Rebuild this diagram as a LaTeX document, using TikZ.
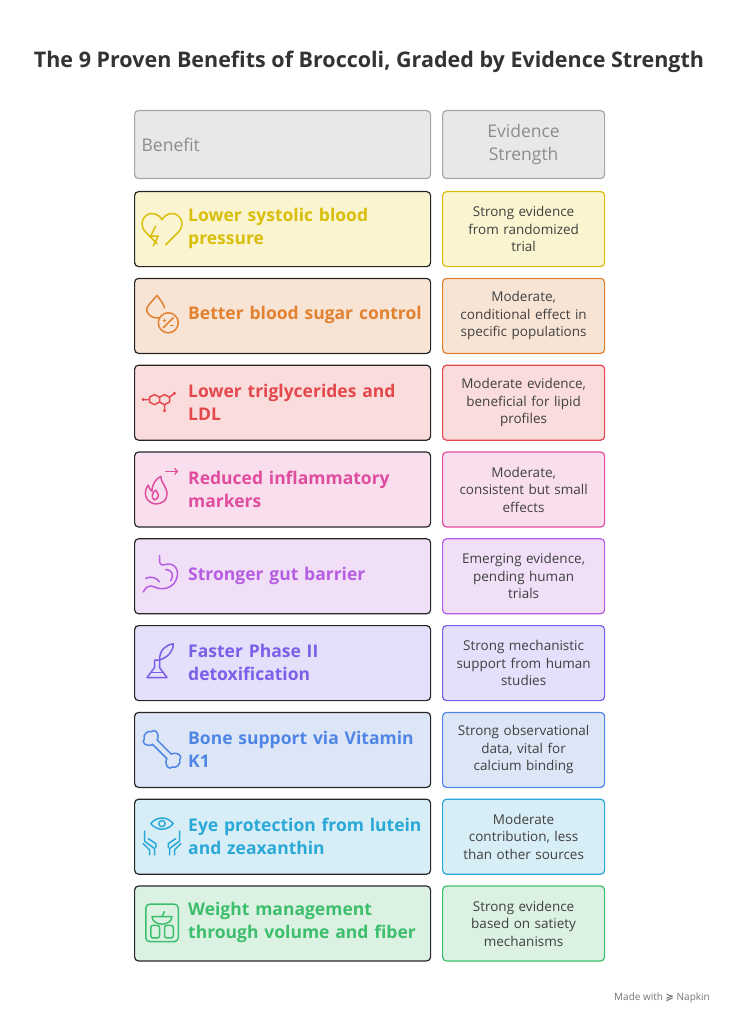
\documentclass[tikz,border=0pt]{standalone}
\usepackage{fontspec}
\setmainfont{Open Sans}
\newfontfamily\symfont{DejaVu Sans}
\usetikzlibrary{positioning}

\definecolor{cYel}{HTML}{D9BE0C}  \definecolor{fYel}{HTML}{FAF5D0}
\definecolor{cOra}{HTML}{E2812F}  \definecolor{fOra}{HTML}{F8E4D5}
\definecolor{cRed}{HTML}{E5484C}  \definecolor{fRed}{HTML}{FADCDC}
\definecolor{cPin}{HTML}{E04D9E}  \definecolor{fPin}{HTML}{F9DEEE}
\definecolor{cPur}{HTML}{B65DE2}  \definecolor{fPur}{HTML}{F0DFF7}
\definecolor{cVio}{HTML}{7B5FE8}  \definecolor{fVio}{HTML}{E4DFFA}
\definecolor{cBlu}{HTML}{4F86E6}  \definecolor{fBlu}{HTML}{DDE6F7}
\definecolor{cCya}{HTML}{2AA8D8}  \definecolor{fCya}{HTML}{D8EEF7}
\definecolor{cGre}{HTML}{3DBE6C}  \definecolor{fGre}{HTML}{DBF2E3}
\definecolor{hdr}{HTML}{E8E8E8}

\tikzset{
  benefit/.style={draw=black!85, line width=1.2pt, rounded corners=4pt, minimum width=296pt,
    minimum height=75pt, anchor=north west, inner sep=0pt},
  bentext/.style={anchor=west, text width=240pt, align=left, inner sep=0pt,
    font=\bfseries\fontsize{17.5}{23}\selectfont},
  evidence/.style={line width=1.2pt, rounded corners=4pt, minimum width=162pt,
    minimum height=75pt, anchor=north west, text width=150pt, align=center,
    font=\fontsize{13.5}{17.5}\selectfont, text=black!75, inner sep=0pt},
  header/.style={draw=black!35, fill=hdr, line width=1.2pt, rounded corners=4pt,
    minimum height=68pt, anchor=north west, text=black!45,
    font=\fontsize{17.5}{23}\selectfont, inner sep=0pt},
  icon/.style={line width=1.5pt, line cap=round, line join=round, scale=1.25}
}

\begin{document}
\begin{tikzpicture}[x=1pt, y=-1pt]
\useasboundingbox (0,0) rectangle (738,1024);

\node[font=\bfseries\fontsize{21.5}{26}\selectfont, text=black!80] (title) at (369,62)
  {The 9 Proven Benefits of Broccoli, Graded by Evidence Strength};

% header row
\node[header, minimum width=296pt, text width=282pt, align=left] (hBen) at (134,110) {Benefit};
\node[header, minimum width=162pt, text width=150pt, align=center] (hEvi) at (442,110) {Evidence\\Strength};

% rows
\foreach \i/\c/\f/\ben/\evi in {
  0/cYel/fYel/{Lower systolic blood\\pressure}/{Strong evidence\\from randomized\\trial},
  1/cOra/fOra/{Better blood sugar control}/{Moderate,\\conditional effect in\\specific populations},
  2/cRed/fRed/{Lower triglycerides and\\LDL}/{Moderate evidence,\\beneficial for lipid\\profiles},
  3/cPin/fPin/{Reduced inflammatory\\markers}/{Moderate,\\consistent but small\\effects},
  4/cPur/fPur/{Stronger gut barrier}/{Emerging evidence,\\pending human\\trials},
  5/cVio/fVio/{Faster Phase II\\detoxification}/{Strong mechanistic\\support from human\\studies},
  6/cBlu/fBlu/{Bone support via Vitamin\\K1}/{Strong observational\\data, vital for\\calcium binding},
  7/cCya/fCya/{Eye protection from lutein\\and zeaxanthin}/{Moderate\\contribution, less\\than other sources},
  8/cGre/fGre/{Weight management\\through volume and fiber}/{Strong evidence\\based on satiety\\mechanisms}}{
  \node[benefit, fill=\f] (ben\i) at (134,{191+86.8*\i}) {};
  \node[bentext, text=\c] (lab\i) at (188,{228.5+86.8*\i}) {\ben};
  \node[evidence, draw=\c, fill=\f] (evi\i) at (442,{191+86.8*\i}) {\evi};
  \coordinate (ic\i) at (162,{228.5+86.8*\i});
}

% icons
\begin{scope}[shift={(ic0)}, icon, draw=cYel]
  \draw (-4,12) -- (-13,3) .. controls (-19,-3) and (-15,-12) .. (-8,-12) .. controls (-4,-12) and (-1,-9) .. (0,-7)
        .. controls (1,-9) and (4,-12) .. (8,-12) .. controls (15,-12) and (19,-3) .. (13,3) -- (3,13);
  \draw (-5,-2) -- (-9,6) -- (-3,6) -- (-7,14);
\end{scope}
\begin{scope}[shift={(ic1)}, icon, draw=cOra]
  \draw (-2,2) .. controls (-8,3) and (-14,-2) .. (-12,-6) .. controls (-10,-10) and (-6,-13) .. (-4,-16) .. controls (-2,-13) and (1,-10) .. (2,-6);
  \draw (5,6) circle (8);
  \draw (1,10) -- (9,2); \draw (1,4) -- (3,4) (2,3) -- (2,5) (7,8) -- (9,8);
\end{scope}
\begin{scope}[shift={(ic2)}, icon, draw=cRed]
  \draw (-10,-4) -- (-6,-6) -- (-2,-4) -- (-2,0) -- (-6,2) -- (-10,0) -- cycle;
  \draw (-2,-4) -- (2,-6) -- (6,-4) -- (6,0) -- (2,2) -- (-2,0);
  \draw (-10,-2) -- (-15,-2) (6,-4) -- (10,-7) (2,2) -- (2,7);
  \fill[cRed] (-15,-2) circle (1.3) (10,-7) circle (1.3) (2,7) circle (1.3);
\end{scope}
\begin{scope}[shift={(ic3)}, icon, draw=cPin]
  \draw (-6,12) .. controls (-14,10) and (-15,2) .. (-11,-3) .. controls (-10,0) and (-9,1) .. (-8,2)
        .. controls (-8,-4) and (-5,-8) .. (-1,-10) .. controls (-1,-5) and (4,-2) .. (4,4) .. controls (4,9) and (1,12) .. (-6,12);
  \draw (-6,9) .. controls (-9,7) and (-8,3) .. (-5,1) .. controls (-3,4) and (-1,6) .. (-6,9);
  \draw[->] (3,-14) -- (13,-14);
\end{scope}
\begin{scope}[shift={(ic4)}, icon, draw=cPur]
  \draw (-2,-16) -- (-2,-11) .. controls (-2,-9) and (0,-8) .. (3,-9) .. controls (10,-11) and (15,-4) .. (11,4)
        .. controls (8,10) and (0,12) .. (-6,9) .. controls (-10,7) and (-13,9) .. (-15,13);
  \draw (-13,2) .. controls (-8,0) and (-4,2) .. (-2,5);
  \draw (3,-5) .. controls (8,-5) and (10,0) .. (7,4);
\end{scope}
\begin{scope}[shift={(ic5)}, icon, draw=cVio]
  \draw (-6,-2) -- (-6,4) -- (-12,12) -- (4,12) -- (-2,4) -- (-2,-2) -- cycle;
  \draw (-9,8) -- (1,8);
  \draw (-2,-2) .. controls (-2,-10) and (3,-14) .. (9,-15) .. controls (9,-8) and (4,-4) .. (-2,-2);
\end{scope}
\begin{scope}[shift={(ic6)}, icon, draw=cBlu, rotate=-45]
  \draw (-8,-2.5) -- (8,-2.5) (-8,2.5) -- (8,2.5);
  \draw (-8,-2.5) .. controls (-10,-8) and (-16,-8) .. (-16,-4) .. controls (-19,-3) and (-19,3) .. (-16,4) .. controls (-16,8) and (-10,8) .. (-8,2.5);
  \draw (8,-2.5) .. controls (10,-8) and (16,-8) .. (16,-4) .. controls (19,-3) and (19,3) .. (16,4) .. controls (16,8) and (10,8) .. (8,2.5);
\end{scope}
\begin{scope}[shift={(ic7)}, icon, draw=cCya]
  \draw (-9,-10) .. controls (-4,-16) and (4,-16) .. (9,-10) .. controls (4,-4) and (-4,-4) .. (-9,-10);
  \draw (0,-10) circle (2.5);
  \draw (-14,-4) -- (-14,4) -- (-6,10) -- (-6,15) (-10,15) -- (-10,11) -- (-15,6);
  \draw (-11,2) -- (-5,6) -- (-5,9);
  \draw (14,-4) -- (14,4) -- (6,10) -- (6,15) (10,15) -- (10,11) -- (15,6);
  \draw (11,2) -- (5,6) -- (5,9);
\end{scope}
\begin{scope}[shift={(ic8)}, icon, draw=cGre]
  \draw[rounded corners=4pt] (-13,-15) rectangle (13,15);
  \draw (-8,-5) arc (180:0:8 and 6) -- cycle;
  \draw (0,-5) -- (2,-9);
  \draw[rounded corners=2pt] (-9,2) rectangle (-2,12) (2,2) rectangle (9,12);
\end{scope}

\node[font=\fontsize{10}{12}\selectfont, text=black!55] (mark) at (662,998) {Made with {\symfont\bfseries ≽} Napkin};
\end{tikzpicture}
\end{document}
